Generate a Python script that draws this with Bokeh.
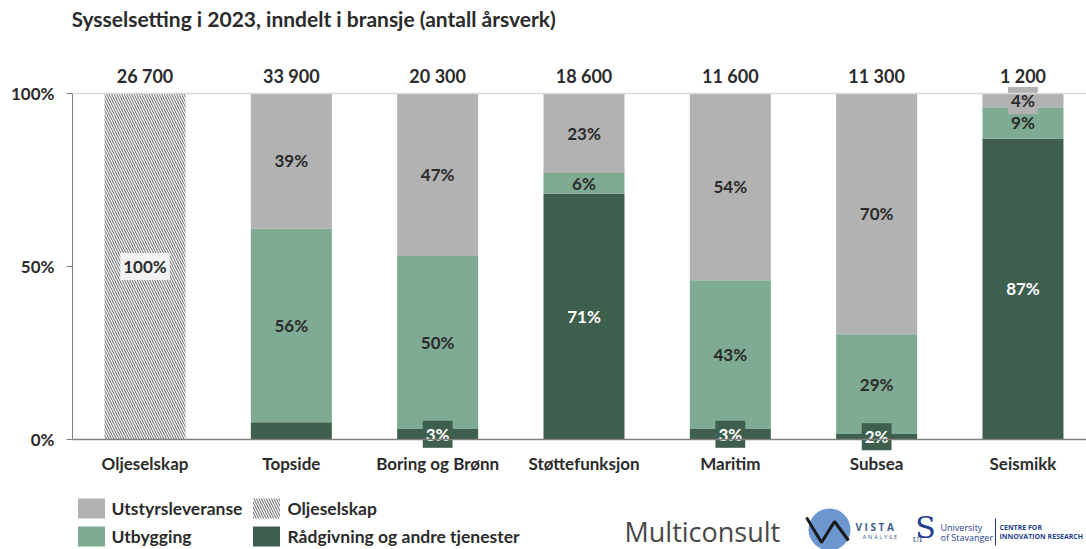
import numpy as np
from bokeh.plotting import figure
from bokeh.models import Range1d, FixedTicker, Span, ColumnDataSource
from bokeh.core.properties import value
from bokeh.embed import file_html
from bokeh.resources import INLINE

# ---------------- data ----------------
categories = ["Oljeselskap", "Topside", "Boring og Brønn", "Støttefunksjon",
              "Maritim", "Subsea", "Seismikk"]
totals = ["26 700", "33 900", "20 300", "18 600", "11 600", "11 300", "1 200"]
oljeselskap = [100, 0, 0, 0, 0, 0, 0]
raadgivning = [0, 5, 3, 71, 3, 1.6, 87]
utbygging = [0, 56, 50, 6, 43, 28.8, 9]
utstyr = [0, 39, 47, 23, 54, 69.6, 4]
raad_labels = ["", "", "3%", "71%", "3%", "2%", "87%"]
utb_labels = ["", "56%", "50%", "6%", "43%", "29%", "9%"]
uts_labels = ["", "39%", "47%", "23%", "54%", "70%", "4%"]
olje_labels = ["100%", "", "", "", "", "", ""]
y_ticks = [0, 50, 100]
y_tick_labels = ["0%", "50%", "100%"]

# ---------------- style ----------------
GREY = "#B2B2B2"
LGREEN = "#7FAA93"
DGREEN = "#3E5F4D"
TXT = "#2B2B2B"
FONT = value("Lato")

W, H = 1086, 549
OFF = 0                      # page offset of the figure (px)
FL = 72 - OFF                # frame left border (px)
PPU_Y = 3.46                 # px per percent
Y0_PX = 439 - OFF            # fig px of 0%
PPU_X = 146.33               # px per category
C0_PX = 144.5 - OFF          # fig px of first category centre
y_top = 100 + (Y0_PX - 100 * PPU_Y) / PPU_Y
y_bot = -(H - Y0_PX) / PPU_Y
x_start = -(C0_PX - FL) / PPU_X
x_end = x_start + (W - FL) / PPU_X


def dx(ref_x):
    return x_start + (ref_x - OFF - FL) / PPU_X


def dy(ref_y):
    return y_top - (ref_y - OFF) / PPU_Y


p = figure(width=W, height=H, output_backend="svg", toolbar_location=None,
           x_range=Range1d(x_start, x_end), y_range=Range1d(y_bot, y_top),
           x_axis_location=None, min_border_left=FL, min_border_right=0,
           min_border_top=0, min_border_bottom=0)
p.outline_line_color = None
p.xgrid.visible = False
p.ygrid.visible = False

ax = p.yaxis[0]
ax.ticker = FixedTicker(ticks=y_ticks)
ax.major_label_overrides = {t: l for t, l in zip(y_ticks, y_tick_labels)}
ax.bounds = (0, 100)
ax.axis_line_color = "#7F7F7F"
ax.major_tick_line_color = "#7F7F7F"
ax.major_tick_out = 6
ax.major_tick_in = 0
ax.minor_tick_line_color = None
ax.major_label_text_font = "Lato"
ax.major_label_text_font_style = "bold"
ax.major_label_text_font_size = "17px"
ax.major_label_text_color = TXT
ax.major_label_standoff = 12

p.add_layout(Span(location=100, dimension="width", line_color="#D9D9D9", line_width=1.5))

xs = np.arange(len(categories))
BW = 81 / PPU_X
HATCH = dict(hatch_pattern="\\", hatch_color="#7A7A7A", hatch_scale=5, hatch_weight=1.1)

src = ColumnDataSource(dict(x=xs, raad=raadgivning, utb=utbygging, uts=utstyr))
p.vbar_stack(["raad", "utb", "uts"], x="x", width=BW, source=src,
             color=[DGREEN, LGREEN, GREY], line_color=None)
p.vbar(x=xs, top=oljeselskap, width=BW, fill_color="white", line_color=None, **HATCH)

p.add_layout(Span(location=0, dimension="width", line_color="#7F7F7F", line_width=1.5))

# segment labels (small segments and the hatched bar get a boxed label)
r = np.array(raadgivning, float)
u = np.array(utbygging, float)
s = np.array(utstyr, float)
o = np.array(oljeselskap, float)
plain = dict(x=[], y=[], t=[], c=[])
boxed = dict(x=[], y=[], t=[], c=[], bg=[])
for i in range(len(categories)):
    segs = [(o[i], 0, olje_labels[i], TXT, "#F2F2F2"),
            (r[i], 0, raad_labels[i], "white", DGREEN),
            (u[i], r[i], utb_labels[i], TXT, LGREEN),
            (s[i], r[i] + u[i], uts_labels[i], TXT, GREY)]
    for v, base, t, c, bg in segs:
        if not t:
            continue
        yy = base + v / 2
        if v < 5 or v >= 100:
            boxed["x"].append(xs[i]); boxed["y"].append(yy); boxed["t"].append(t)
            boxed["c"].append(c); boxed["bg"].append(bg)
        else:
            plain["x"].append(xs[i]); plain["y"].append(yy); plain["t"].append(t)
            plain["c"].append(c)
LBL = dict(text_font=FONT, text_font_style="bold", text_font_size="17px",
           text_align="center", text_baseline="middle")
p.text(x="x", y="y", text="t", source=ColumnDataSource(plain), text_color="c", **LBL)
p.text(x="x", y="y", text="t", source=ColumnDataSource(boxed), text_color="c",
       background_fill_color="bg", padding=3, **LBL)

# totals above bars
p.text(x=xs, y=[100 + 18 / PPU_Y] * len(xs), text=totals, text_color=TXT,
       text_font=FONT, text_font_style="bold", text_font_size="18px",
       text_align="center", text_baseline="middle")

# category labels
p.text(x=xs, y=[-24 / PPU_Y] * len(xs), text=categories, text_color=TXT,
       text_font=FONT, text_font_style="bold", text_font_size="17px",
       text_align="center", text_baseline="middle")

# title
p.text(x=[dx(71)], y=[dy(18)], text=["Sysselsetting i 2023, inndelt i bransje (antall årsverk)"],
       text_color=TXT, text_font=FONT, text_font_style="bold", text_font_size="21px",
       text_align="left", text_baseline="middle")

# legend
leg_sq = [(91, 508, GREY, False), (266, 508, "white", True), (91, 536, LGREEN, False), (266, 536, DGREEN, False)]
for lx, ly, col, hp in leg_sq:
    extra = HATCH if hp else {}
    p.rect(x=[dx(lx)], y=[dy(ly)], width=27, height=20, width_units="screen",
           height_units="screen", fill_color=col, line_color=None, **extra)
leg_txt = [(111, 508, "Utstyrsleveranse"), (287, 508, "Oljeselskap"),
           (111, 536, "Utbygging"), (287, 536, "Rådgivning og andre tjenester")]
p.text(x=[dx(a) for a, b, c in leg_txt], y=[dy(b) for a, b, c in leg_txt],
       text=[c for a, b, c in leg_txt], text_color=TXT, text_font=FONT,
       text_font_style="bold", text_font_size="17.5px", text_align="left",
       text_baseline="middle")

# logos (decorative)
p.text(x=[dx(624)], y=[dy(531)], text=["Multiconsult"], text_color="#484848",
       text_font=value("Open Sans"), text_font_size="27px", text_align="left",
       text_baseline="middle")
p.scatter(x=[dx(829)], y=[dy(529)], size=42, fill_color="#5C8CCB", line_color=None,
          fill_alpha=0.9)
p.line(x=[dx(806), dx(821), dx(834), dx(848)], y=[dy(517), dy(542), dy(521), dy(540)],
       line_color="#1A1A1A", line_width=3)
p.text(x=[dx(855)], y=[dy(526)], text=["V I S T A"], text_color="#3B5E8C",
       text_font=value("Open Sans"), text_font_style="bold", text_font_size="10px",
       text_align="left", text_baseline="middle")
p.text(x=[dx(862)], y=[dy(536)], text=["A N A L Y S E"], text_color="#3B5E8C",
       text_font=value("Open Sans"), text_font_size="6px",
       text_align="left", text_baseline="middle")
p.text(x=[dx(925)], y=[dy(527)], text=["S"], text_color="#1F3F8F",
       text_font=value("DejaVu Serif"), text_font_size="30px",
       text_align="center", text_baseline="middle")
p.text(x=[dx(917)], y=[dy(539)], text=["UI"], text_color="#1F3F8F",
       text_font=value("DejaVu Serif"), text_font_size="8px",
       text_align="center", text_baseline="middle")
p.text(x=[dx(940), dx(940)], y=[dy(527), dy(537)], text=["University", "of Stavanger"],
       text_color="#1F3F8F", text_font=value("Open Sans"), text_font_size="9px",
       text_align="left", text_baseline="middle")
p.line(x=[dx(995), dx(995)], y=[dy(518), dy(545)], line_color="#1F3F8F", line_width=1)
p.text(x=[dx(999), dx(999)], y=[dy(527), dy(536)], text=["CENTRE FOR", "INNOVATION RESEARCH"],
       text_color="#1F3F8F", text_font=value("Open Sans"), text_font_style="bold",
       text_font_size="7px", text_align="left", text_baseline="middle")

open("out.html", "w").write(file_html(p, INLINE))
